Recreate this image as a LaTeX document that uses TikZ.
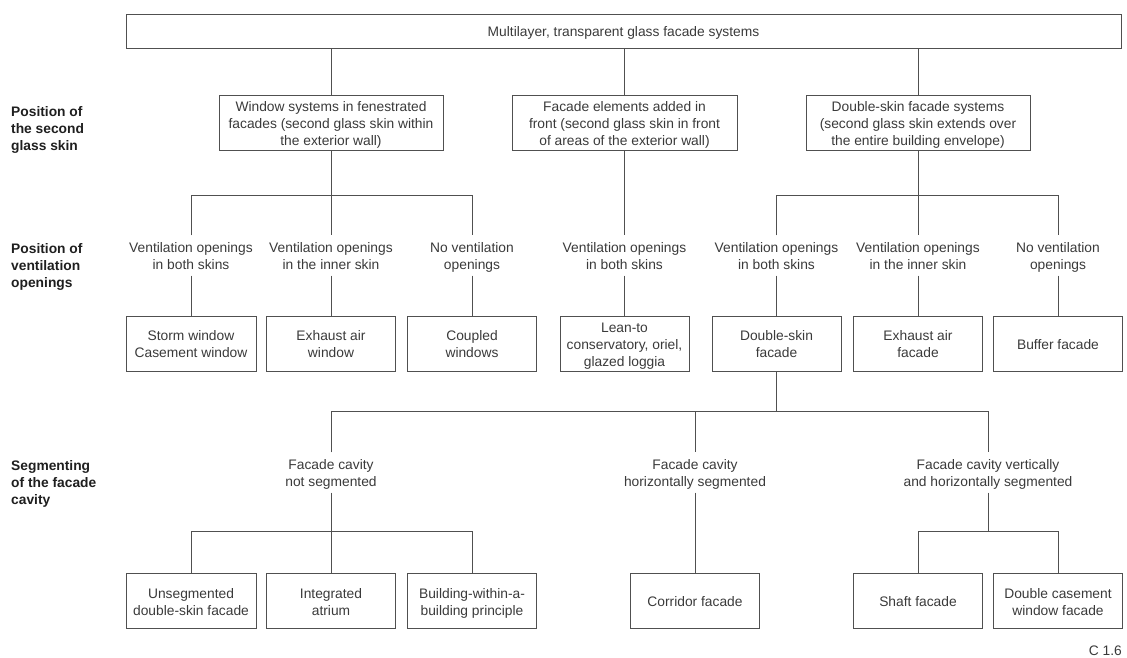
\documentclass[tikz,border=0pt]{standalone}
\usepackage{fontspec}
\setmainfont{Liberation Sans}
\definecolor{ink}{HTML}{3A3A3A}
\definecolor{rule}{HTML}{505050}
% every text line gets the same height and depth, so lines sit 17pt apart
\newcommand\lnstrut{\rule[-3pt]{0pt}{17pt}}
\begin{document}
\begin{tikzpicture}[x=1pt,y=-1pt,
  every node/.style={font=\fontsize{13.8}{17}\selectfont, text=ink, align=center, inner sep=0pt},
  box/.style={draw=rule, line width=0.9pt, minimum height=55pt, minimum width=129pt},
  lbl/.style={minimum height=40pt},
  side/.style={anchor=west, align=left, font=\bfseries\fontsize{13.8}{17}\selectfont, text=black!88},
  link/.style={draw=rule, line width=0.9pt}]
\useasboundingbox (0,0) rectangle (1127,657);

% root and first level: position of the second glass skin
\node[box, minimum width=995pt, minimum height=34pt] (top) at (623.5,31) {\lnstrut Multilayer, transparent glass facade systems};
\node[box, minimum width=224pt] (w) at (331,122.5) {\lnstrut Window systems in fenestrated\\\lnstrut facades (second glass skin within\\\lnstrut the exterior wall)};
\node[box, minimum width=225pt] (f) at (624.5,122.5) {\lnstrut Facade elements added in\\\lnstrut front (second glass skin in front\\\lnstrut of areas of the exterior wall)};
\node[box, minimum width=224pt] (d) at (918,122.5) {\lnstrut Double-skin facade systems\\\lnstrut (second glass skin extends over\\\lnstrut the entire building envelope)};

% second level: position of ventilation openings
\node[lbl] (v1) at (191,255.5) {\lnstrut Ventilation openings\\\lnstrut in both skins};
\node[lbl] (v2) at (331,255.5) {\lnstrut Ventilation openings\\\lnstrut in the inner skin};
\node[lbl] (v3) at (472,255.5) {\lnstrut No ventilation\\\lnstrut openings};
\node[lbl] (v4) at (624.5,255.5) {\lnstrut Ventilation openings\\\lnstrut in both skins};
\node[lbl] (v5) at (776.5,255.5) {\lnstrut Ventilation openings\\\lnstrut in both skins};
\node[lbl] (v6) at (918,255.5) {\lnstrut Ventilation openings\\\lnstrut in the inner skin};
\node[lbl] (v7) at (1058,255.5) {\lnstrut No ventilation\\\lnstrut openings};

\node[box, minimum width=130pt] (s1) at (191,343.5) {\lnstrut Storm window\\\lnstrut Casement window};
\node[box] (s2) at (331,343.5) {\lnstrut Exhaust air\\\lnstrut window};
\node[box] (s3) at (472,343.5) {\lnstrut Coupled\\\lnstrut windows};
\node[box] (s4) at (624.5,343.5) {\lnstrut Lean-to\\\lnstrut conservatory, oriel,\\\lnstrut glazed loggia};
\node[box] (s5) at (776.5,343.5) {\lnstrut Double-skin\\\lnstrut facade};
\node[box] (s6) at (918,343.5) {\lnstrut Exhaust air\\\lnstrut facade};
\node[box] (s7) at (1058,343.5) {\lnstrut Buffer facade};

% third level: segmenting of the facade cavity
\node[lbl] (c1) at (331,472.5) {\lnstrut Facade cavity\\\lnstrut not segmented};
\node[lbl] (c2) at (695,472.5) {\lnstrut Facade cavity\\\lnstrut horizontally segmented};
\node[lbl] (c3) at (988,472.5) {\lnstrut Facade cavity vertically\\\lnstrut and horizontally segmented};

\node[box, minimum width=130pt] (u1) at (191,601) {\lnstrut Unsegmented\\\lnstrut double-skin facade};
\node[box] (u2) at (331,601) {\lnstrut Integrated\\\lnstrut atrium};
\node[box] (u3) at (472,601) {\lnstrut Building-within-a-\\\lnstrut building principle};
\node[box] (u4) at (695,601) {\lnstrut Corridor facade};
\node[box] (u5) at (918,601) {\lnstrut Shaft facade};
\node[box] (u6) at (1058,601) {\lnstrut Double casement\\\lnstrut window facade};

% row headings and figure number
\node[side] (l1) at (11,128) {\lnstrut Position of\\\lnstrut the second\\\lnstrut glass skin};
\node[side] (l2) at (11,265) {\lnstrut Position of\\\lnstrut ventilation\\\lnstrut openings};
\node[side] (l3) at (11,481.5) {\lnstrut Segmenting\\\lnstrut of the facade\\\lnstrut cavity};
\node[anchor=east] (fig) at (1122,650.5) {C 1.6};

% junction points of the branch lines
\path (w.south) ++(0,45) coordinate (j1);
\path (d.south) ++(0,45) coordinate (j2);
\path (s5.south) ++(0,40) coordinate (j3);
\path (c1.south) ++(0,38.5) coordinate (j4);
\path (c3.south) ++(0,38.5) coordinate (j5);

% connectors
\draw[link] (top.south -| w.north) -- (w.north);
\draw[link] (top.south -| f.north) -- (f.north);
\draw[link] (top.south -| d.north) -- (d.north);

\draw[link] (w.south) -- (j1);
\draw[link] (v1.north) |- (j1) -| (v3.north);
\draw[link] (j1) -- (v2.north);
\draw[link] (f.south) -- (v4.north);
\draw[link] (d.south) -- (j2);
\draw[link] (v5.north) |- (j2) -| (v7.north);
\draw[link] (j2) -- (v6.north);

\foreach \i in {1,...,7}{
  \draw[link] (v\i.south) -- (v\i.south |- s\i.north);
}

\draw[link] (s5.south) -- (j3);
\draw[link] (c1.north) |- (j3) -| (c3.north);
\draw[link] (c2.north |- j3) -- (c2.north);

\draw[link] (c1.south) -- (j4);
\draw[link] (u1.north) |- (j4) -| (u3.north);
\draw[link] (j4) -- (u2.north);
\draw[link] (c2.south) -- (u4.north);
\draw[link] (c3.south) -- (j5);
\draw[link] (u5.north) |- (j5) -| (u6.north);
\end{tikzpicture}
\end{document}
